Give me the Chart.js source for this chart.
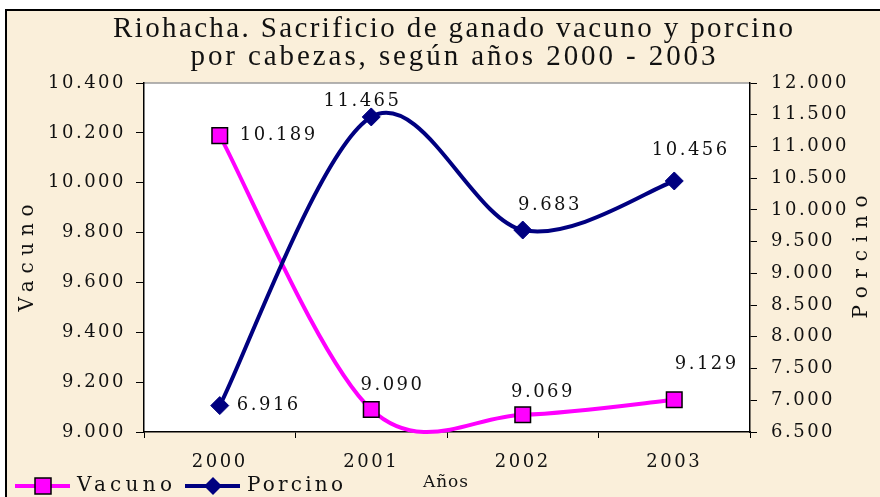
<!DOCTYPE html>
<html>
<head>
<meta charset="utf-8">
<script src="https://cdn.jsdelivr.net/npm/chart.js@4"></script>
<style>
  html, body { margin: 0; padding: 0; background: #ffffff; }
  #wrap { width: 880px; height: 497px; }
</style>
</head>
<body>
<div id="wrap"><canvas id="chart" width="880" height="497"></canvas></div>
<script>
const years = ["2000", "2001", "2002", "2003"];
const vacuno = [10189, 9090, 9069, 9129];
const porcino = [6916, 11465, 9683, 10456];
const vacunoTicks = { min: 9000, max: 10400, step: 200 };
const porcinoTicks = { min: 6500, max: 12000, step: 500 };

const titleLines = ["Riohacha. Sacrificio de ganado vacuno y porcino", "por cabezas, según años 2000 - 2003"];

const beige = "#faefda";
const magenta = "#ff00ff";
const navy = "#000080";
const serif = "'DejaVu Serif', serif";
const spacing = 2.5;

// label offsets from each point: [dx, dy, align]
const vacunoLabelPos = [[20, 0, "left"], [20, -24, "center"], [19, -22, "center"], [62, -36, "right"]];
const porcinoLabelPos = [[17, 0, "left"], [-10, -16, "center"], [26, -25, "center"], [53, -31, "right"]];

function fmt(v) {
  return v.toLocaleString("de-DE");
}

// draw text stretched to a given width using letter spacing
function spacedText(ctx, text, x, y, width, align) {
  ctx.letterSpacing = "0px";
  const w = ctx.measureText(text).width;
  const sp = (width - w) / Math.max(text.length - 1, 1);
  ctx.letterSpacing = sp + "px";
  ctx.textAlign = "left";
  let left = x;
  if (align === "center") left = x - width / 2;
  if (align === "right") left = x - width;
  ctx.fillText(text, left, y);
}

function naturalWidth(ctx, text) {
  ctx.letterSpacing = "0px";
  return ctx.measureText(text).width + spacing * (text.length - 1);
}

// Excel-like smoothing: uniform Catmull-Rom control points
const smoothPlugin = {
  id: "smooth",
  beforeDatasetDraw(chart, args) {
    const line = args.meta.dataset;
    line.updateControlPoints(chart.chartArea);
    const pts = line.points;
    for (let i = 0; i < pts.length; i++) {
      const prev = pts[Math.max(i - 1, 0)];
      const next = pts[Math.min(i + 1, pts.length - 1)];
      const dx = (next.x - prev.x) / 6;
      const dy = (next.y - prev.y) / 6;
      pts[i].cp1x = pts[i].x - dx;
      pts[i].cp1y = pts[i].y - dy;
      pts[i].cp2x = pts[i].x + dx;
      pts[i].cp2y = pts[i].y + dy;
    }
    line._path = undefined;
  }
};

const decoPlugin = {
  id: "deco",
  beforeDraw(chart) {
    const ctx = chart.ctx;
    const a = chart.chartArea;
    ctx.save();
    ctx.fillStyle = "#ffffff";
    ctx.fillRect(0, 0, chart.width, chart.height);
    ctx.fillStyle = beige;
    ctx.fillRect(6, 10, chart.width - 6, chart.height - 10);
    ctx.strokeStyle = "#000000";
    ctx.lineWidth = 2;
    ctx.beginPath();
    ctx.moveTo(6, chart.height);
    ctx.lineTo(6, 10);
    ctx.lineTo(chart.width, 10);
    ctx.stroke();
    ctx.fillStyle = "#ffffff";
    ctx.fillRect(a.left, a.top, a.right - a.left, a.bottom - a.top);
    ctx.strokeStyle = "#9a9a9a";
    ctx.lineWidth = 1.5;
    ctx.beginPath();
    ctx.moveTo(a.left, a.top);
    ctx.lineTo(a.right, a.top);
    ctx.stroke();

    // title
    ctx.fillStyle = "#111111";
    ctx.textBaseline = "middle";
    ctx.font = "29px 'Liberation Serif', serif";
    spacedText(ctx, titleLines[0], 453, 29, 680, "center");
    spacedText(ctx, titleLines[1], 453, 57, 525, "center");

    // axis titles
    ctx.font = "20px " + serif;
    ctx.save();
    ctx.translate(28, 258);
    ctx.rotate(-Math.PI / 2);
    spacedText(ctx, "Vacuno", 0, 0, 107, "center");
    ctx.restore();
    ctx.save();
    ctx.translate(862, 257);
    ctx.rotate(-Math.PI / 2);
    spacedText(ctx, "Porcino", 0, 0, 123, "center");
    ctx.restore();

    ctx.font = "17px " + serif;
    spacedText(ctx, "Años", 423, 483, 45, "left");
    ctx.restore();
    ctx.letterSpacing = spacing + "px";
  },
  afterDraw(chart) {
    const ctx = chart.ctx;
    ctx.save();
    ctx.fillStyle = "#111111";
    ctx.textBaseline = "middle";
    ctx.font = "18px " + serif;
    const sets = [[0, vacuno, vacunoLabelPos], [1, porcino, porcinoLabelPos]];
    sets.forEach(([idx, values, pos]) => {
      const meta = chart.getDatasetMeta(idx);
      meta.data.forEach((pt, i) => {
        const p = pos[i];
        const txt = fmt(values[i]);
        spacedText(ctx, txt, pt.x + p[0], pt.y + p[1], naturalWidth(ctx, txt), p[2]);
      });
    });

    // legend
    const items = [
      { x: 15, label: "Vacuno", color: magenta, style: "rect" },
      { x: 185, label: "Porcino", color: navy, style: "rectRot" }
    ];
    const ly = 486;
    items.forEach((it) => {
      ctx.strokeStyle = it.color;
      ctx.lineWidth = 4;
      ctx.beginPath();
      ctx.moveTo(it.x, ly);
      ctx.lineTo(it.x + 55, ly);
      ctx.stroke();
      const cx = it.x + 28;
      if (it.style === "rect") {
        ctx.fillStyle = magenta;
        ctx.fillRect(cx - 8, ly - 8, 16, 16);
        ctx.strokeStyle = "#000000";
        ctx.lineWidth = 1.5;
        ctx.strokeRect(cx - 8, ly - 8, 16, 16);
      } else {
        ctx.fillStyle = navy;
        ctx.beginPath();
        ctx.moveTo(cx, ly - 9);
        ctx.lineTo(cx + 9, ly);
        ctx.lineTo(cx, ly + 9);
        ctx.lineTo(cx - 9, ly);
        ctx.closePath();
        ctx.fill();
      }
      ctx.fillStyle = "#111111";
      ctx.font = "20px " + serif;
      spacedText(ctx, it.label, it.x + 62, ly, it.label === "Vacuno" ? 95 : 96, "left");
    });
    ctx.restore();
  }
};

const tickFont = { family: "DejaVu Serif", size: 18 };

new Chart(document.getElementById("chart"), {
  type: "line",
  data: {
    labels: years,
    datasets: [
      {
        label: "Vacuno",
        data: vacuno,
        yAxisID: "y",
        order: 1,
        borderColor: magenta,
        backgroundColor: magenta,
        borderWidth: 4,
        tension: 0.4,
        pointStyle: "rect",
        pointRadius: 11,
        pointBorderColor: "#000000",
        pointBorderWidth: 1.5,
        pointBackgroundColor: magenta
      },
      {
        label: "Porcino",
        data: porcino,
        yAxisID: "y1",
        order: 0,
        borderColor: navy,
        backgroundColor: navy,
        borderWidth: 4,
        tension: 0.4,
        pointStyle: "rectRot",
        pointRadius: 9,
        pointBorderColor: navy,
        pointBorderWidth: 1,
        pointBackgroundColor: navy
      }
    ]
  },
  options: {
    responsive: false,
    animation: false,
    clip: false,
    layout: { padding: { top: 83, left: 0, right: 0, bottom: 0 } },
    plugins: {
      legend: { display: false },
      title: { display: false },
      tooltip: { enabled: false }
    },
    scales: {
      x: {
        offset: true,
        grid: { offset: true, drawOnChartArea: false, color: "#000000", tickLength: 6 },
        border: { color: "#000000", width: 1.5 },
        ticks: { color: "#111111", font: tickFont, padding: 14 },
        afterFit: (s) => { s.height = 65; }
      },
      y: {
        position: "left",
        min: vacunoTicks.min,
        max: vacunoTicks.max,
        grid: { drawOnChartArea: false, color: "#000000", tickLength: 8 },
        border: { color: "#000000", width: 1.5 },
        ticks: { stepSize: vacunoTicks.step, color: "#111111", font: tickFont, padding: 10, callback: (v) => fmt(v) },
        afterFit: (s) => { s.width = 144; }
      },
      y1: {
        position: "right",
        min: porcinoTicks.min,
        max: porcinoTicks.max,
        grid: { drawOnChartArea: false, color: "#000000", tickLength: 7 },
        border: { color: "#000000", width: 1.5 },
        ticks: { stepSize: porcinoTicks.step, color: "#111111", font: tickFont, padding: 14, callback: (v) => fmt(v) },
        afterFit: (s) => { s.width = 130; }
      }
    }
  },
  plugins: [smoothPlugin, decoPlugin]
});
</script>
</body>
</html>
